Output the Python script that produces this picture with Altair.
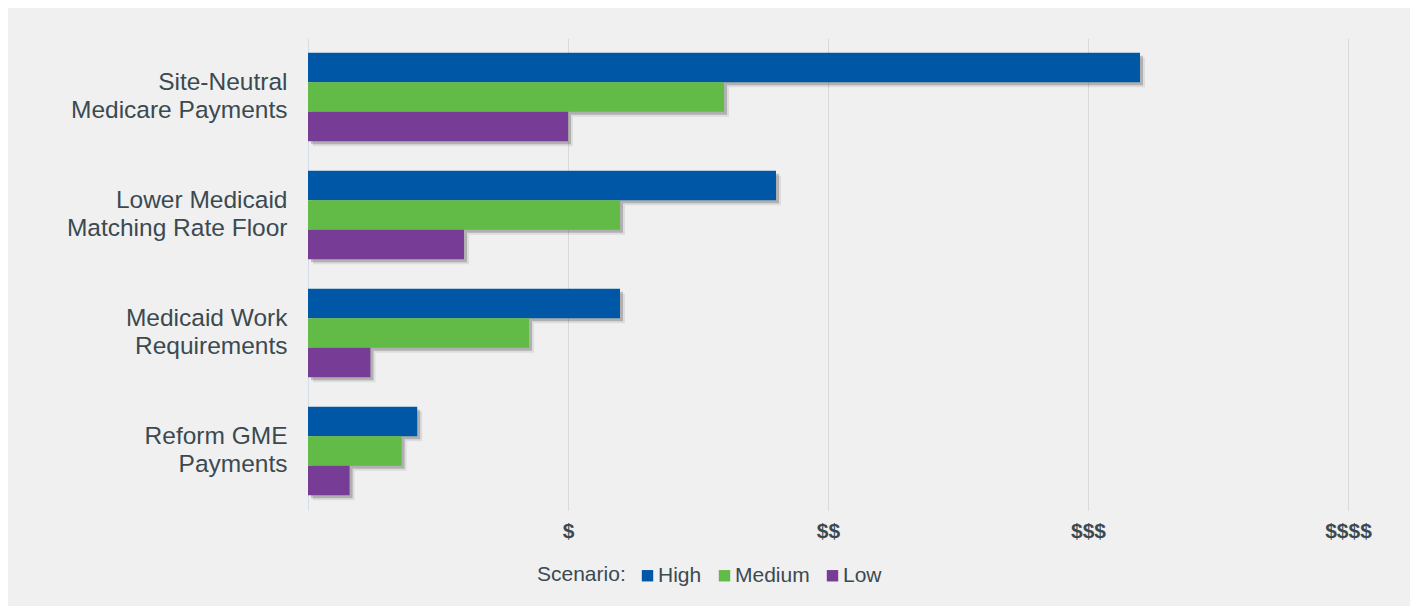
import altair as alt
import pandas as pd

categories = ["Site-Neutral|Medicare Payments", "Lower Medicaid|Matching Rate Floor",
              "Medicaid Work|Requirements", "Reform GME|Payments"]
scenarios = ["High", "Medium", "Low"]
high = [3.2, 1.8, 1.2, 0.42]
medium = [1.6, 1.2, 0.85, 0.36]
low = [1.0, 0.6, 0.24, 0.16]
tick_values = [1, 2, 3, 4]
tick_labels = ["$", "$$", "$$$", "$$$$"]
colors = ["#0057a5", "#62bb46", "#763c96"]

rows = []
for i, c in enumerate(categories):
    for s, vals in zip(scenarios, [high, medium, low]):
        rows.append({"category": c, "scenario": s, "value": vals[i]})
df = pd.DataFrame(rows)

label_expr = " : ".join(
    f"datum.value == {v} ? '{l}'" for v, l in zip(tick_values, tick_labels)
) + " : ''"

FONT = "Liberation Sans"
TEXT = "#3b4a50"
BAND = 88.5

x = alt.X("value:Q", scale=alt.Scale(domain=[0, 4], nice=False),
          axis=alt.Axis(values=tick_values, labelExpr=label_expr, title=None,
                        grid=True, gridColor="#d9d9d9", domain=False, ticks=False,
                        labelFontWeight="bold", labelFontSize=21, labelColor=TEXT,
                        labelFont=FONT, labelPadding=10, labelFlush=False))
y = alt.Y("category:N", sort=categories,
          scale=alt.Scale(paddingInner=0.25, paddingOuter=0.125),
          axis=alt.Axis(title=None, labelExpr="split(datum.label, '|')",
                        labelFontSize=24.5, labelColor=TEXT, labelFont=FONT,
                        labelLineHeight=28, labelPadding=21, ticks=False,
                        labelOffset=-14,
                        domainColor="#d3dde5", labelLimit=400))

shadow2 = alt.Chart(df).mark_bar(color="#000000", opacity=0.08, xOffset=5).encode(
    x=x, y=y,
    yOffset=alt.YOffset("scenario:N", sort=scenarios,
                        scale=alt.Scale(range=[5, BAND + 5])))

shadow = alt.Chart(df).mark_bar(color="#000000", opacity=0.2, xOffset=3).encode(
    x=x, y=y,
    yOffset=alt.YOffset("scenario:N", sort=scenarios,
                        scale=alt.Scale(range=[3, BAND + 3])))

bars = alt.Chart(df).mark_bar().encode(
    x=x, y=y,
    yOffset=alt.YOffset("scenario:N", sort=scenarios,
                        scale=alt.Scale(range=[0, BAND])),
    color=alt.Color("scenario:N", sort=scenarios,
                    scale=alt.Scale(domain=scenarios, range=colors),
                    legend=alt.Legend(title="Scenario:", orient="none", direction="horizontal",
                                      titleOrient="left", legendX=229, legendY=527,
                                      symbolType="square", symbolSize=130,
                                      symbolStrokeWidth=0, labelFontSize=21,
                                      titleFontSize=21, titleFontWeight="normal",
                                      labelFont=FONT, titleFont=FONT,
                                      labelColor=TEXT, titleColor=TEXT,
                                      columnPadding=12, labelOffset=0, titlePadding=11)))

chart = alt.layer(shadow2, shadow, bars).resolve_scale(yOffset="independent").properties(
    width=1040, height=472,
    background="#f0f0f0",
    padding={"left": 300, "top": 30, "right": 62, "bottom": 96},
    autosize=alt.AutoSizeParams(type="none"),
).configure_view(stroke=None)

chart.save("out.html", embed_options={"renderer": "svg", "actions": False})
